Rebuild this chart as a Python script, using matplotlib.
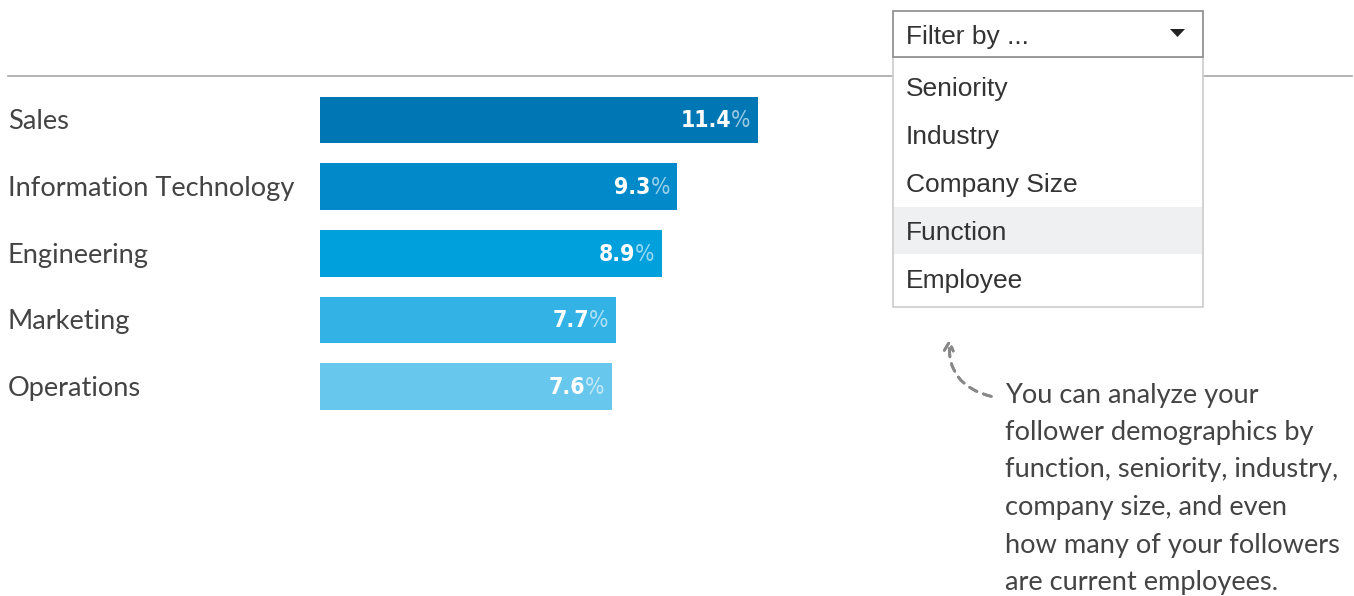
import matplotlib.pyplot as plt
from matplotlib import font_manager
from matplotlib.patches import Rectangle, Polygon
from matplotlib.transforms import blended_transform_factory

# data
functions = ["Sales", "Information Technology", "Engineering", "Marketing", "Operations"]
shares = [11.4, 9.3, 8.9, 7.7, 7.6]
bar_colors = ["#0077B5", "#0289C9", "#00A0DC", "#33B2E5", "#68C7EC"]
filter_options = ["Seniority", "Industry", "Company Size", "Function", "Employee"]
selected_option = "Function"
note_lines = ["You can analyze your",
              "follower demographics by",
              "function, seniority, industry,",
              "company size, and even",
              "how many of your followers",
              "are current employees."]

W, H = 1354, 596
fig = plt.figure(figsize=(W / 100, H / 100), dpi=100)


def fx(x):
    return x / W


def fy(y):
    return 1 - y / H


TXT = "#444444"

# pick a narrow font for the numbers if there is one
installed = {f.name: f for f in font_manager.fontManager.ttflist}
num_font = dict(family="Roboto", fontsize=17)
if "Liberation Sans Narrow" in installed:
    num_font = dict(family="Liberation Sans Narrow", fontsize=19)
elif any(f.name == "DejaVu Sans" and f.stretch == "condensed"
         for f in font_manager.fontManager.ttflist):
    num_font = dict(family="DejaVu Sans", fontstretch="condensed", fontsize=16.5)

# bar axes: x from px 320, 38.4 px per percent; rows of 66.7 px starting at 86.6
ax = fig.add_axes([fx(320), fy(420), 12 * 38.4 / W, (420 - 86.6) / H])
ypos = list(range(len(functions)))
ax.barh(ypos, shares, height=0.7, color=bar_colors, zorder=2)
ax.set_xlim(0, 12)
ax.set_ylim(len(functions) - 0.5, -0.5)
ax.axis("off")

lab_tr = blended_transform_factory(fig.transFigure, ax.transData)
for y, name in zip(ypos, functions):
    ax.annotate(name, (fx(8), y), xycoords=lab_tr, xytext=(0, -2),
                textcoords="offset pixels", ha="left", va="center",
                fontsize=19.6, family="Lato", color=TXT)

fig.canvas.draw()
renderer = fig.canvas.get_renderer()
for y, v in zip(ypos, shares):
    pct = ax.annotate("%", (v, y), xytext=(-7, -1), textcoords="offset pixels",
                      ha="right", va="center", fontweight="light",
                      color="white", alpha=0.6, **num_font)
    wpx = pct.get_window_extent(renderer).width
    ax.annotate(f"{v:.1f}", (v, y), xytext=(-7 - wpx, -1), textcoords="offset pixels",
                ha="right", va="center", fontweight="bold", color="white",
                **num_font)

# separator line
fig.add_artist(plt.Line2D([fx(8), fx(1352)], [fy(76), fy(76)], color="#A8A8A8",
                          lw=1.2, zorder=1))

# dropdown
fig.add_artist(Rectangle((fx(893), fy(307)), fx(1203 - 893), (307 - 57) / H,
                         transform=fig.transFigure, facecolor="white",
                         edgecolor="#CCCCCC", lw=1.2, zorder=3))
fig.add_artist(Rectangle((fx(893), fy(57)), fx(1203 - 893), (57 - 11) / H,
                         transform=fig.transFigure, facecolor="white",
                         edgecolor="#8A8A8A", lw=1.2, zorder=4))
fig.text(fx(906), fy(37), "Filter by ...", ha="left", va="center", fontsize=19,
         family="Liberation Sans", color="#333333", zorder=5)
fig.add_artist(Polygon([(fx(1170), fy(29)), (fx(1185), fy(29)), (fx(1177.5), fy(37))],
                       closed=True, transform=fig.transFigure, facecolor="#222222",
                       edgecolor="none", zorder=5))
for i, opt in enumerate(filter_options):
    yc = 87 + 48 * i
    if opt == selected_option:
        fig.add_artist(Rectangle((fx(894), fy(yc + 23)), fx(1202 - 894), 47 / H,
                                 transform=fig.transFigure, facecolor="#EFF0F1",
                                 edgecolor="none", zorder=4))
    fig.text(fx(906), fy(yc + 2), opt, ha="left", va="center", fontsize=19,
             family="Liberation Sans", color="#333333", zorder=5)

# note with dashed arrow
for i, line in enumerate(note_lines):
    fig.text(fx(1005), fy(395 + 37.5 * i), line, ha="left", va="center",
             fontsize=19.6, family="Lato", color=TXT)
fig.add_artist(plt.annotate("", xy=(fx(950), fy(336)), xytext=(fx(994), fy(397)),
                            xycoords="figure fraction", textcoords="figure fraction",
                            arrowprops=dict(arrowstyle="->", color="#888888", lw=2,
                                            linestyle=(0, (3, 2.5)),
                                            connectionstyle="arc3,rad=-0.45",
                                            mutation_scale=16)))

fig.savefig("out.png", dpi=100)
